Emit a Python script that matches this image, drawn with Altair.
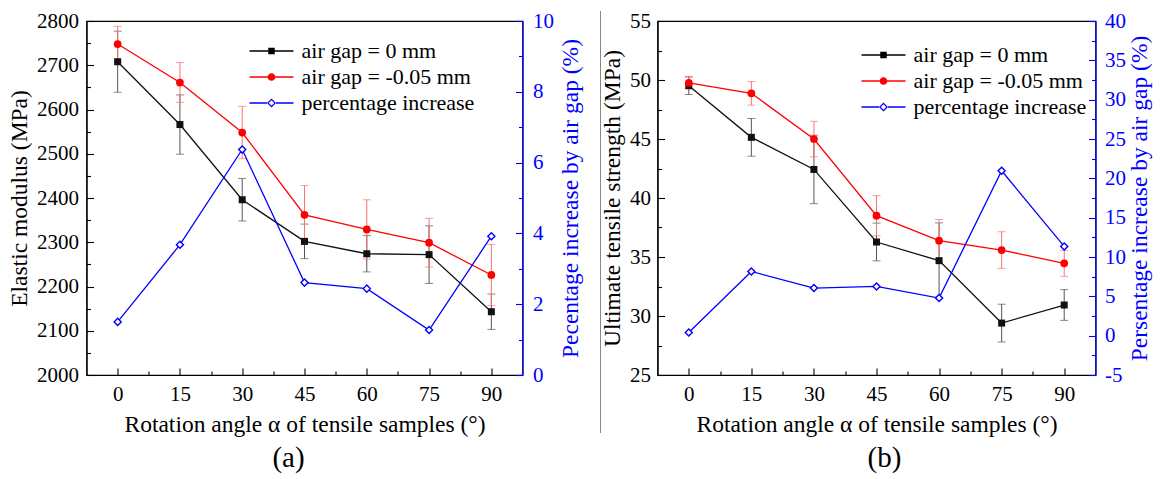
import altair as alt
import pandas as pd

FONT = "Liberation Serif"
BLUE = "#0000ff"

ANGLES = [0, 15, 30, 45, 60, 75, 90]
SERIES = ["air gap = 0 mm", "air gap = -0.05 mm", "percentage increase"]

# Panel (a): elastic modulus
A_GAP0 = [2708, 2566, 2396, 2302, 2274, 2272, 2143]
A_GAP0_ERR = [69, 67, 48, 39, 41, 65, 40]
A_GAPN = [2748, 2661, 2548, 2362, 2329, 2299, 2226]
A_GAPN_ERR = [40, 45, 59, 66, 67, 55, 69]
A_PCT = [1.50, 3.68, 6.37, 2.61, 2.44, 1.27, 3.92]

# Panel (b): ultimate tensile strength
B_GAP0 = [49.52, 45.14, 42.42, 36.27, 34.69, 29.40, 30.93]
B_GAP0_ERR = [0.75, 1.6, 2.9, 1.6, 3.2, 1.6, 1.3]
B_GAPN = [49.75, 48.87, 45.0, 38.5, 36.38, 35.59, 34.46]
B_GAPN_ERR = [0.5, 1.0, 1.5, 1.7, 1.8, 1.55, 1.1]
B_PCT = [0.41, 8.16, 6.05, 6.26, 4.78, 20.96, 11.34]

X_DOMAIN = [-7.5, 97.5]
X_TICKS = [0, 7.5, 15, 22.5, 30, 37.5, 45, 52.5, 60, 67.5, 75, 82.5, 90]
A_LEFT_TICKS = [2000, 2050, 2100, 2150, 2200, 2250, 2300, 2350, 2400, 2450,
                2500, 2550, 2600, 2650, 2700, 2750, 2800]
A_RIGHT_TICKS = [0, 1, 2, 3, 4, 5, 6, 7, 8, 9, 10]
B_LEFT_TICKS = [25, 27.5, 30, 32.5, 35, 37.5, 40, 42.5, 45, 47.5, 50, 52.5, 55]
B_RIGHT_TICKS = [-5, -2.5, 0, 2.5, 5, 7.5, 10, 12.5, 15, 17.5, 20, 22.5, 25,
                 27.5, 30, 32.5, 35, 37.5, 40]

XTITLE = "Rotation angle \u03b1 of tensile samples (\u00b0)"

# legend glyphs: line + marker (unit coords, scaled by sqrt(size)/2)
BAR = "M-1.833,-0.054H1.833V0.054H-1.833Z "
P_SQ = BAR + "M-0.27,-0.27H0.27V0.27H-0.27Z"
P_CI = BAR + "M-0.32,0A0.32 0.32 0 1 1 0.32,0A0.32 0.32 0 1 1 -0.32,0Z"
P_DI = ("M-1.833,-0.054H-0.375V0.054H-1.833Z M0.375,-0.054H1.833V0.054H0.375Z "
        "M0,-0.375L0.375,0L0,0.375L-0.375,0Z M0,-0.23L-0.23,0L0,0.23L0.23,0Z")


def tick_axis(values, major, orient, title, pad, tpad, color="black", angle=None, baseline=None):
    kw = dict(
        values=values,
        orient=orient,
        title=title,
        labelExpr=f"datum.value % {major} === 0 ? '' + datum.value : ''",
        tickSize=alt.ExprRef(expr=f"datum.value % {major} === 0 ? -7 : -4"),
        labelPadding=pad,
        titlePadding=tpad,
        domainColor=color,
        tickColor=color,
        labelColor=color,
        titleColor=color,
        grid=False,
        labelOverlap=False,
        labelFlush=False,
        labelFont=FONT,
        titleFont=FONT,
        labelFontSize=21,
        titleFontSize=23.5,
        titleFontWeight="normal",
    )
    if angle is not None:
        kw["titleAngle"] = angle
    if baseline is not None:
        kw["titleBaseline"] = baseline
    return alt.Axis(**kw)


def make_panel(letter, letter_dx, gap0, gap0_err, gapn, gapn_err, pct,
               ydom, yticks, ymajor, ytitle, ypad,
               y2dom, y2ticks, y2major, y2title, y2pad, y2tpad,
               width, height, legx, legy, divider):
    df = pd.DataFrame({
        "angle": ANGLES * 2,
        "series": [SERIES[0]] * 7 + [SERIES[1]] * 7,
        "value": gap0 + gapn,
        "lo": [v - e for v, e in zip(gap0, gap0_err)] + [v - e for v, e in zip(gapn, gapn_err)],
        "hi": [v + e for v, e in zip(gap0, gap0_err)] + [v + e for v, e in zip(gapn, gapn_err)],
    })
    dfp = pd.DataFrame({"angle": ANGLES, "pct": pct})
    dleg = pd.DataFrame({"series": SERIES})

    xax = tick_axis(X_TICKS, 15, "bottom", XTITLE, 15, 5)
    yax = tick_axis(yticks, ymajor, "left", ytitle, ypad, 5)
    y2ax = tick_axis(y2ticks, y2major, "right", y2title, y2pad, y2tpad, color=BLUE,
                     angle=270, baseline="top")
    xs = alt.Scale(domain=X_DOMAIN, nice=False, zero=False)
    ys = alt.Scale(domain=ydom, nice=False, zero=False)
    y2s = alt.Scale(domain=y2dom, nice=False, zero=False)
    X = alt.X("angle:Q", scale=xs, axis=xax)

    layers = []
    for s, err_c in [(SERIES[0], "#555555"), (SERIES[1], "#ff7070")]:
        base = alt.Chart(df).transform_filter(alt.datum.series == s)
        layers.append(base.mark_rule(color=err_c, strokeWidth=1).encode(
            x=X, y=alt.Y("lo:Q", scale=ys, axis=yax), y2="hi:Q"))
        layers.append(base.mark_tick(color=err_c, orient="horizontal", size=8, thickness=1).encode(
            x=X, y=alt.Y("lo:Q", scale=ys, axis=yax)))
        layers.append(base.mark_tick(color=err_c, orient="horizontal", size=8, thickness=1).encode(
            x=X, y=alt.Y("hi:Q", scale=ys, axis=yax)))
    for s, line_c, shape, size in [
        (SERIES[0], "#111111", "square", 49),
        (SERIES[1], "#ff0000", "circle", 60),
    ]:
        base = alt.Chart(df).transform_filter(alt.datum.series == s)
        layers.append(base.mark_line(color=line_c, strokeWidth=1.3).encode(
            x=X, y=alt.Y("value:Q", scale=ys, axis=yax)))
        layers.append(base.mark_point(color=line_c, filled=True, shape=shape, size=size, opacity=1).encode(
            x=X, y=alt.Y("value:Q", scale=ys, axis=yax)))

    leg = alt.Legend(orient="none", legendX=legx, legendY=legy, title=None, direction="vertical",
                     symbolSize=576, symbolStrokeWidth=0, symbolOpacity=1,
                     labelFont=FONT, labelFontSize=22, labelColor="black", labelOffset=18,
                     rowPadding=3, padding=0, labelLimit=500)
    layers.append(alt.Chart(dleg).mark_point(filled=True, opacity=0).encode(
        color=alt.Color("series:N", scale=alt.Scale(domain=SERIES, range=["black", "red", BLUE]), legend=leg),
        shape=alt.Shape("series:N", scale=alt.Scale(domain=SERIES, range=[P_SQ, P_CI, P_DI]), legend=leg),
    ))
    left = alt.layer(*layers)

    Y2 = alt.Y("pct:Q", scale=y2s, axis=y2ax)
    rlayers = [
        alt.Chart(dfp).mark_line(color=BLUE, strokeWidth=1.3).encode(x=X, y=Y2),
        alt.Chart(dfp).mark_point(color=BLUE, filled=False, shape="diamond",
                                   size=50, strokeWidth=1.4, opacity=1).encode(
            x=X, y=Y2, fill=alt.value("white")),
    ]
    if divider:
        rlayers.append(alt.Chart(pd.DataFrame({"d": [0]})).mark_rule(color="#888888", strokeWidth=1).encode(
            x=alt.value(-57), y=alt.value(-10), y2=alt.value(412)))
    right = alt.layer(*rlayers)

    return alt.layer(left, right).resolve_scale(y="independent").properties(
        width=width, height=height,
        title=alt.TitleParams(letter, orient="bottom", font=FONT, fontSize=29,
                              fontWeight="normal", color="black", offset=8, dx=letter_dx),
    )


pa = make_panel("(a)", -16, A_GAP0, A_GAP0_ERR, A_GAPN, A_GAPN_ERR, A_PCT,
                [2000, 2800], A_LEFT_TICKS, 100, "Elastic modulus (MPa)", 15,
                [0, 10], A_RIGHT_TICKS, 2, "Pecentage increase by air gap (%)", 17, 5,
                436, 354, 173, 18, False)
pb = make_panel("(b)", 8, B_GAP0, B_GAP0_ERR, B_GAPN, B_GAPN_ERR, B_PCT,
                [25, 55], B_LEFT_TICKS, 5, "Ultimate tensile strength (MPa)", 14,
                [-5, 40], B_RIGHT_TICKS, 5, "Persentage increase by air gap (%)", 16, 2,
                438, 354, 214, 22, True)

chart = alt.hconcat(pa, pb, spacing=135, bounds="flush").resolve_scale(
    color="independent", shape="independent"
).resolve_legend(color="independent", shape="independent").properties(
    padding={"left": 6.5, "top": 9, "right": 5, "bottom": 5},
    background="white",
).configure_view(stroke="black", strokeWidth=1.2).configure_axis(
    labelFont=FONT, labelFontSize=21, titleFont=FONT, titleFontSize=23.5,
    titleFontWeight="normal", domainWidth=1.2, tickWidth=1.1,
).configure_legend(labelFont=FONT)

chart.save("out.html", embed_options={"renderer": "svg", "actions": False})
